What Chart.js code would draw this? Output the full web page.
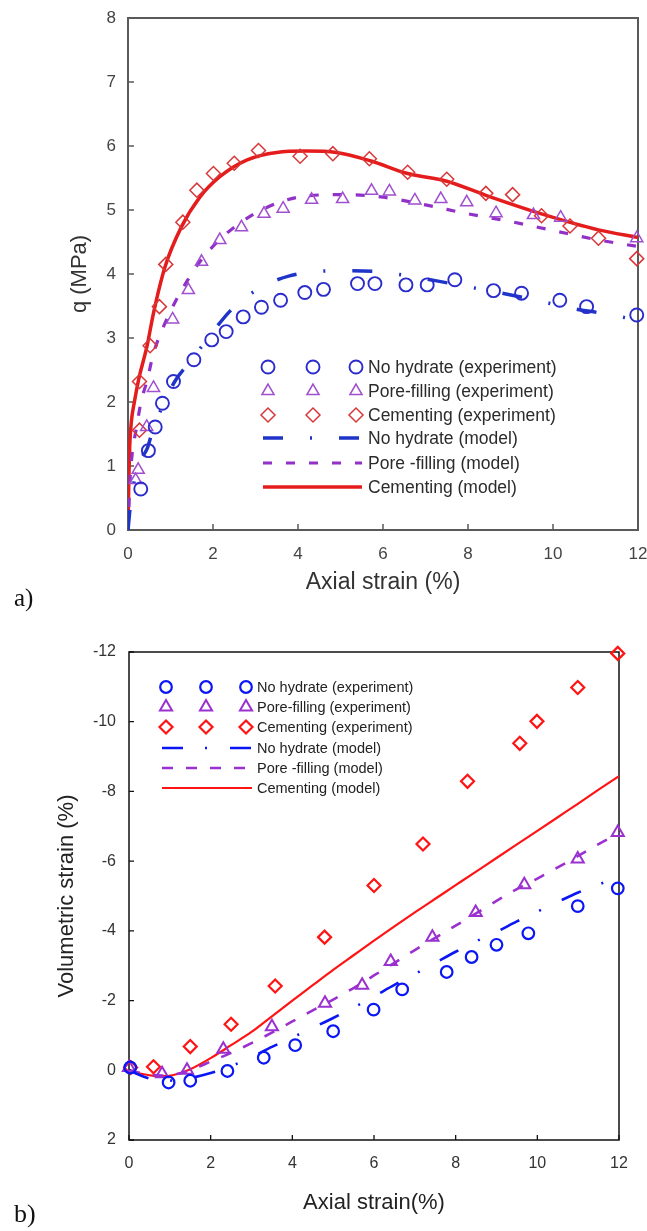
<!DOCTYPE html>
<html>
<head>
<meta charset="utf-8">
<script src="https://cdn.jsdelivr.net/npm/chart.js@4.4.1/dist/chart.umd.min.js"></script>
<style>
  html, body { margin: 0; padding: 0; background: #fff; }
  body { width: 647px; height: 1231px; position: relative; overflow: hidden; }
  canvas { position: absolute; left: 0; }
  #chartA { top: 0; }
  #chartB { top: 620px; }
  .tag { position: absolute; font-family: 'Liberation Serif', 'Times New Roman', serif; color: #111; line-height: 1; }
</style>
</head>
<body>
<canvas id="chartA" width="647" height="600"></canvas>
<canvas id="chartB" width="647" height="611"></canvas>
<div class="tag" style="left:14px; top:585px; font-size:25px;">a)</div>
<div class="tag" style="left:14px; top:1201px; font-size:26px;">b)</div>
<script>
const SANS = "'Liberation Sans', Arial, sans-serif";

const seriesNames = [
  'No hydrate (experiment)', 'Pore-filling (experiment)', 'Cementing (experiment)',
  'No hydrate (model)', 'Pore -filling (model)', 'Cementing (model)'
];

// ---- (a) deviator stress q vs axial strain ----
const qNoHydrateExpX = [0.3, 0.48, 0.64, 0.81, 1.07, 1.55, 1.97, 2.31, 2.71, 3.14, 3.59, 4.16, 4.6, 5.4, 5.81, 6.54, 7.04, 7.69, 8.6, 9.26, 10.16, 10.79, 11.97];
const qNoHydrateExpY = [0.64, 1.24, 1.61, 1.98, 2.32, 2.66, 2.97, 3.10, 3.33, 3.48, 3.59, 3.71, 3.76, 3.85, 3.85, 3.83, 3.83, 3.91, 3.74, 3.70, 3.59, 3.49, 3.36];
const qPoreExpX = [0.18, 0.24, 0.44, 0.6, 1.05, 1.42, 1.73, 2.16, 2.67, 3.2, 3.65, 4.32, 5.05, 5.73, 6.15, 6.75, 7.36, 7.97, 8.66, 9.54, 10.18, 11.97];
const qPoreExpY = [0.78, 0.94, 1.61, 2.22, 3.29, 3.75, 4.19, 4.53, 4.73, 4.94, 5.02, 5.16, 5.17, 5.30, 5.29, 5.15, 5.17, 5.12, 4.95, 4.92, 4.88, 4.56];
const qCementExpX = [0.27, 0.27, 0.52, 0.74, 0.89, 1.29, 1.62, 2.01, 2.50, 3.07, 4.05, 4.82, 5.68, 6.58, 7.50, 8.42, 9.05, 9.73, 10.4, 11.07, 11.97];
const qCementExpY = [1.56, 2.32, 2.88, 3.49, 4.15, 4.81, 5.31, 5.57, 5.73, 5.93, 5.84, 5.88, 5.80, 5.59, 5.48, 5.26, 5.24, 4.91, 4.75, 4.56, 4.24];

const qNoHydrateModX = [0, 0.05, 0.1, 0.2, 0.3, 0.45, 0.6, 0.85, 1.1, 1.5, 2.0, 2.4, 2.8, 3.3, 3.8, 4.3, 5.0, 5.8, 6.5, 7.2, 8.0, 8.8, 9.6, 10.4, 11.2, 12.0];
const qNoHydrateModY = [0, 0.35, 0.6, 0.9, 1.1, 1.27, 1.6, 1.98, 2.32, 2.66, 3.1, 3.42, 3.65, 3.85, 3.97, 4.03, 4.05, 4.04, 3.98, 3.9, 3.8, 3.7, 3.59, 3.47, 3.38, 3.28];
const qPoreModX = [0, 0.05, 0.1, 0.2, 0.3, 0.45, 0.6, 0.85, 1.1, 1.4, 1.7, 2.1, 2.6, 3.2, 4.0, 5.0, 6.0, 7.0, 8.0, 9.0, 10.0, 11.0, 12.0];
const qPoreModY = [0, 0.8, 1.2, 1.6, 1.98, 2.34, 2.76, 3.2, 3.55, 3.9, 4.2, 4.5, 4.78, 5.02, 5.2, 5.24, 5.2, 5.08, 4.94, 4.82, 4.68, 4.54, 4.43];
const qCementModX = [0, 0.02, 0.04, 0.08, 0.15, 0.25, 0.45, 0.6, 0.87, 1.26, 1.69, 2.16, 2.79, 3.5, 4.2, 4.9, 5.7, 6.58, 7.5, 8.42, 9.73, 11.07, 12.0];
const qCementModY = [0, 0.8, 1.3, 1.7, 2.0, 2.35, 2.88, 3.39, 4.11, 4.74, 5.2, 5.52, 5.78, 5.9, 5.92, 5.9, 5.77, 5.57, 5.45, 5.23, 4.94, 4.69, 4.57];

// ---- (b) volumetric strain vs axial strain ----
const vNoHydrateExpX = [0.03, 0.97, 1.5, 2.41, 3.3, 4.07, 5.0, 5.99, 6.69, 7.78, 8.39, 9.0, 9.78, 10.99, 11.97];
const vNoHydrateExpY = [-0.08, 0.35, 0.3, 0.02, -0.36, -0.72, -1.12, -1.74, -2.32, -2.82, -3.25, -3.6, -3.93, -4.71, -5.22];
const vPoreExpX = [0, 0.81, 1.42, 2.31, 3.5, 4.8, 5.71, 6.41, 7.43, 8.49, 9.68, 10.99, 11.97];
const vPoreExpY = [-0.08, 0.1, 0, -0.6, -1.25, -1.92, -2.44, -3.12, -3.82, -4.53, -5.32, -6.06, -6.82];
const vCementExpX = [0.04, 0.6, 1.5, 2.5, 3.58, 4.79, 6.0, 7.2, 8.29, 9.57, 9.99, 10.99, 11.97];
const vCementExpY = [-0.08, -0.1, -0.68, -1.32, -2.42, -3.82, -5.3, -6.49, -8.29, -9.38, -10.01, -10.98, -11.96];

const vModX = [0, 0.4, 0.8, 1.2, 1.6, 2.0, 2.5, 3.0, 3.5, 4.0, 4.5, 5.0, 5.5, 6.0, 6.5, 7.0, 7.5, 8.0, 8.5, 9.0, 9.5, 10.0, 10.5, 11.0, 11.5, 12.0];
const vNoHydrateModY = [0, 0.2, 0.3, 0.28, 0.2, 0.08, -0.12, -0.38, -0.67, -0.94, -1.22, -1.5, -1.8, -2.12, -2.45, -2.76, -3.08, -3.4, -3.7, -3.97, -4.27, -4.55, -4.83, -5.1, -5.33, -5.55];
const vPoreModY = [0, 0.1, 0.15, 0.1, -0.05, -0.25, -0.5, -0.78, -1.08, -1.4, -1.72, -2.03, -2.36, -2.72, -3.08, -3.45, -3.8, -4.15, -4.5, -4.86, -5.2, -5.5, -5.82, -6.15, -6.49, -6.8];
const vCementModX = [0, 0.3, 0.6, 0.9, 1.2, 1.5, 2.0, 2.5, 3.0, 3.5, 4.0, 4.5, 5.0, 5.5, 6.0, 6.5, 7.0, 7.5, 8.0, 8.5, 9.0, 9.5, 10.0, 10.5, 11.0, 11.5, 12.0];
const vCementModY = [0, 0.1, 0.16, 0.17, 0.1, -0.03, -0.35, -0.72, -1.1, -1.55, -2.0, -2.44, -2.88, -3.3, -3.72, -4.13, -4.53, -4.92, -5.31, -5.7, -6.09, -6.48, -6.87, -7.26, -7.65, -8.05, -8.44];

const pts = (xs, ys) => xs.map((x, i) => ({ x, y: ys[i] }));

function expSet(label, xs, ys, style, color, radius, width) {
  return {
    label, data: pts(xs, ys), showLine: false, clip: false,
    pointStyle: style, pointRadius: radius, pointHoverRadius: radius,
    pointBorderWidth: width, pointBorderColor: color,
    pointBackgroundColor: 'rgba(0,0,0,0)', borderColor: color, backgroundColor: 'rgba(0,0,0,0)'
  };
}

function modelSet(label, xs, ys, color, width, dash) {
  return {
    label, data: pts(xs, ys), showLine: true, pointRadius: 0, pointHoverRadius: 0,
    borderColor: color, borderWidth: width, borderDash: dash, borderCapStyle: 'butt',
    cubicInterpolationMode: 'monotone', fill: false, backgroundColor: 'rgba(0,0,0,0)'
  };
}

// box around the plot area plus short ticks pointing inwards
const framePlugin = {
  id: 'frame',
  beforeDatasetsDraw(chart, args, opts) {
    const { ctx, chartArea: a, scales } = chart;
    ctx.save();
    ctx.strokeStyle = opts.color;
    ctx.lineWidth = opts.width;
    ctx.strokeRect(a.left, a.top, a.right - a.left, a.bottom - a.top);
    ctx.lineWidth = opts.tickWidth;
    ctx.beginPath();
    scales.x.ticks.forEach(t => {
      const px = scales.x.getPixelForValue(t.value);
      ctx.moveTo(px, a.bottom);
      ctx.lineTo(px, a.bottom - opts.tickLen);
    });
    scales.y.ticks.forEach(t => {
      const py = scales.y.getPixelForValue(t.value);
      ctx.moveTo(a.left, py);
      ctx.lineTo(a.left + opts.tickLen, py);
    });
    ctx.stroke();
    ctx.restore();
  }
};

// key drawn inside the plot: three markers per measured series, a line sample per model
const keyPlugin = {
  id: 'key',
  afterDatasetsDraw(chart, args, opts) {
    const ctx = chart.ctx;
    ctx.save();
    chart.data.datasets.forEach((ds, i) => {
      const y = opts.rows[i];
      if (ds.showLine) {
        ctx.save();
        ctx.strokeStyle = ds.borderColor;
        ctx.lineWidth = ds.borderWidth;
        ctx.lineCap = 'butt';
        ctx.setLineDash(ds.borderDash || []);
        ctx.beginPath();
        ctx.moveTo(opts.lineFrom, y);
        ctx.lineTo(opts.lineTo, y);
        ctx.stroke();
        ctx.restore();
      } else {
        opts.marks.forEach(mx => {
          ctx.save();
          ctx.strokeStyle = ds.pointBorderColor;
          ctx.fillStyle = 'rgba(0,0,0,0)';
          ctx.lineWidth = ds.pointBorderWidth;
          Chart.helpers.drawPoint(ctx, {
            pointStyle: ds.pointStyle, radius: ds.pointRadius,
            borderWidth: ds.pointBorderWidth, rotation: 0
          }, mx, y);
          ctx.restore();
        });
      }
      ctx.fillStyle = opts.textColor;
      ctx.font = opts.fontSize + 'px ' + SANS;
      ctx.textAlign = 'left';
      ctx.textBaseline = 'middle';
      ctx.fillText(ds.label, opts.textX, y + 1);
    });
    ctx.restore();
  }
};

function fixX(h) {
  return s => { s.height = h; s.paddingLeft = 0; s.paddingRight = 0; };
}
function fixY(w) {
  return s => { s.width = w; s.paddingTop = 0; s.paddingBottom = 0; };
}

// ---- chart (a) ----
const A_BLUE = '#2a2ccc', A_BLUE_LINE = '#1f34c8';
const A_PURPLE = '#a04fcf', A_PURPLE_LINE = '#9131c8';
const A_RED = '#d8383a', A_RED_LINE = '#e41c1c';

new Chart(document.getElementById('chartA'), {
  type: 'scatter',
  data: {
    datasets: [
      expSet(seriesNames[0], qNoHydrateExpX, qNoHydrateExpY, 'circle', A_BLUE, 6.5, 1.9),
      expSet(seriesNames[1], qPoreExpX, qPoreExpY, 'triangle', A_PURPLE, 7, 1.5),
      expSet(seriesNames[2], qCementExpX, qCementExpY, 'rectRot', A_RED, 7, 1.5),
      modelSet(seriesNames[3], qNoHydrateModX, qNoHydrateModY, A_BLUE_LINE, 3.5, [20, 27, 2, 27]),
      modelSet(seriesNames[4], qPoreModX, qPoreModY, A_PURPLE_LINE, 3.2, [9, 14]),
      modelSet(seriesNames[5], qCementModX, qCementModY, A_RED_LINE, 3.5, [])
    ]
  },
  options: {
    responsive: false,
    animation: false,
    layout: { padding: { top: 18, right: 9, left: 0, bottom: 0 } },
    plugins: {
      legend: { display: false },
      tooltip: { enabled: false },
      frame: { color: '#5a5a5a', width: 2, tickWidth: 1.5, tickLen: 6 },
      key: {
        rows: [367, 391, 415, 438, 463, 487],
        marks: [268, 313, 356],
        lineFrom: 263, lineTo: 362, textX: 368,
        fontSize: 17.5, textColor: '#2b2b2b'
      }
    },
    scales: {
      x: {
        type: 'linear', min: 0, max: 12,
        grid: { display: false, drawTicks: false },
        border: { display: false },
        ticks: { stepSize: 2, padding: 14, color: '#444', font: { family: SANS, size: 17 }, maxRotation: 0, autoSkip: false },
        title: { display: true, text: 'Axial strain (%)', color: '#333', font: { family: SANS, size: 23 }, padding: { top: 0, bottom: 4 } },
        afterFit: fixX(70)
      },
      y: {
        type: 'linear', min: 0, max: 8,
        grid: { display: false, drawTicks: false },
        border: { display: false },
        ticks: { stepSize: 1, padding: 12, color: '#444', font: { family: SANS, size: 17 } },
        title: { display: true, text: 'q (MPa)', color: '#333', font: { family: SANS, size: 22 }, padding: { top: 67, bottom: 0 } },
        afterFit: fixY(128)
      }
    }
  },
  plugins: [framePlugin, keyPlugin]
});

// ---- chart (b) ----
const B_BLUE = '#0b16f5';
const B_PURPLE = '#9b30d0';
const B_RED = '#ff1414';

new Chart(document.getElementById('chartB'), {
  type: 'scatter',
  data: {
    datasets: [
      expSet(seriesNames[0], vNoHydrateExpX, vNoHydrateExpY, 'circle', B_BLUE, 5.8, 2.2),
      expSet(seriesNames[1], vPoreExpX, vPoreExpY, 'triangle', B_PURPLE, 7, 2),
      expSet(seriesNames[2], vCementExpX, vCementExpY, 'rectRot', B_RED, 6.5, 2.2),
      modelSet(seriesNames[3], vModX, vNoHydrateModY, B_BLUE, 2.6, [21, 22, 2, 23]),
      modelSet(seriesNames[4], vModX, vPoreModY, B_PURPLE, 2.6, [11, 13]),
      modelSet(seriesNames[5], vCementModX, vCementModY, B_RED, 2.2, [])
    ]
  },
  options: {
    responsive: false,
    animation: false,
    layout: { padding: { top: 32, right: 28, left: 0, bottom: 0 } },
    plugins: {
      legend: { display: false },
      tooltip: { enabled: false },
      frame: { color: '#111', width: 1.5, tickWidth: 1.3, tickLen: 5 },
      key: {
        rows: [687, 707, 727, 748, 768, 788].map(v => v - 620),
        marks: [166, 206, 246],
        lineFrom: 162, lineTo: 252, textX: 257,
        fontSize: 14.5, textColor: '#222'
      }
    },
    scales: {
      x: {
        type: 'linear', min: 0, max: 12,
        grid: { display: false, drawTicks: false },
        border: { display: false },
        ticks: { stepSize: 2, padding: 14, color: '#333', font: { family: SANS, size: 16 }, maxRotation: 0, autoSkip: false },
        title: { display: true, text: 'Axial strain(%)', color: '#222', font: { family: SANS, size: 22 }, padding: { top: 0, bottom: 15 } },
        afterFit: fixX(91)
      },
      y: {
        type: 'linear', min: -12, max: 2, reverse: true,
        grid: { display: false, drawTicks: false },
        border: { display: false },
        ticks: { stepSize: 2, padding: 13, color: '#333', font: { family: SANS, size: 16 } },
        title: { display: true, text: 'Volumetric strain (%)', color: '#222', font: { family: SANS, size: 22 }, padding: { top: 54, bottom: 0 } },
        afterFit: fixY(129)
      }
    }
  },
  plugins: [framePlugin, keyPlugin]
});
</script>
</body>
</html>
